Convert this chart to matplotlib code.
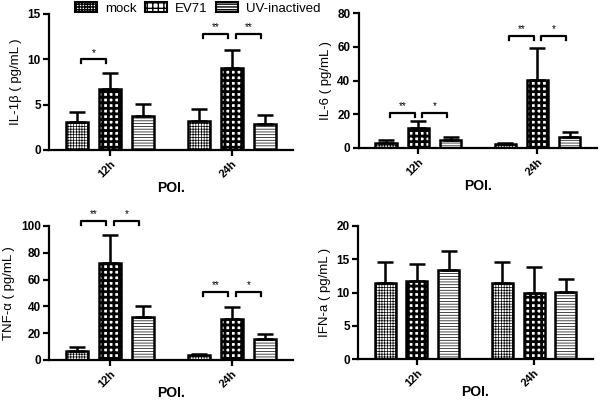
import matplotlib
matplotlib.use('Agg')
import matplotlib.pyplot as plt
import matplotlib.patches as mpatches
import numpy as np

# =============================================================================
#                               DATOS
# =============================================================================

grupos = ['12h', '24h']
series = ['mock', 'EV71', 'UV-inactived']

il1b_media = [[3.1, 3.2], [6.75, 9.0], [3.8, 2.85]]
il1b_err = [[1.1, 1.35], [1.75, 2.0], [1.3, 1.0]]

il6_media = [[3.0, 2.2], [12.0, 40.3], [4.8, 6.8]]
il6_err = [[2.0, 0.8], [4.0, 19.2], [1.8, 2.8]]

tnf_media = [[7.0, 3.8], [72.5, 30.8], [31.8, 15.5]]
tnf_err = [[2.5, 0.7], [21.0, 8.5], [8.2, 3.8]]

ifn_media = [[11.5, 11.5], [11.7, 10.0], [13.4, 10.1]]
ifn_err = [[3.1, 3.1], [2.6, 3.9], [2.9, 2.0]]

# (grupo, serie_a, serie_b, altura, texto)
il1b_sig = [(0, 0, 1, 10.0, '*'), (1, 0, 1, 12.8, '**'), (1, 1, 2, 12.8, '**')]
il6_sig = [(0, 0, 1, 20.7, '**'), (0, 1, 2, 20.7, '*'), (1, 0, 1, 66.4, '**'), (1, 1, 2, 66.4, '*')]
tnf_sig = [(0, 0, 1, 103.7, '**'), (0, 1, 2, 103.7, '*'), (1, 0, 1, 51.0, '**'), (1, 1, 2, 51.0, '*')]
ifn_sig = []

# =============================================================================
#                               ESTILO
# =============================================================================

plt.rcParams['font.family'] = ['Liberation Sans', 'DejaVu Sans']
plt.rcParams['font.weight'] = 'bold'
plt.rcParams['axes.linewidth'] = 1.6

hatches = ['++++++', '+++', '------']
hatch_lw = [0.5, 2.0, 0.5]
sep = 0.27
ancho = 0.18

fig = plt.figure(figsize=(6, 4), dpi=100)


def panel(rect, medias, errs, sig, ylabel, ylim, yticks, dy, poi_y):
    ax = fig.add_axes(rect)
    x = np.arange(1, len(grupos) + 1)
    for k in range(3):
        xs = x + (k - 1) * sep
        with plt.rc_context({'hatch.linewidth': hatch_lw[k]}):
            ax.bar(xs, medias[k], width=ancho, color='white', edgecolor='black',
                   linewidth=1.8, hatch=hatches[k], zorder=2)
        ax.errorbar(xs, medias[k], yerr=[np.zeros(len(grupos)), errs[k]], fmt='none',
                    ecolor='black', elinewidth=1.8, capsize=5.5, capthick=1.8, zorder=3)
    for g, a, b, h, txt in sig:
        x0 = g + 1 + (a - 1) * sep + 0.03
        x1 = g + 1 + (b - 1) * sep - 0.03
        ax.plot([x0, x0, x1, x1], [h - dy, h, h, h - dy], color='black', lw=1.6,
                clip_on=False, zorder=4)
        ax.text((x0 + x1) / 2, h + dy * 0.4, txt, ha='center', va='bottom', fontsize=7,
                fontweight='normal')
    ax.set_xlim(0.5, 2.5)
    ax.set_ylim(*ylim)
    ax.set_yticks(yticks)
    ax.set_xticks(x)
    ax.set_xticklabels(grupos, rotation=45, fontsize=8, ha='right', va='top',
                       rotation_mode='anchor')
    ax.tick_params(axis='y', labelsize=8.5, width=1.6, length=4, pad=2)
    ax.tick_params(axis='x', width=1.6, length=4, pad=2)
    ax.spines['top'].set_visible(False)
    ax.spines['right'].set_visible(False)
    ax.set_ylabel(ylabel, fontsize=9.5, fontweight='normal', labelpad=4)
    ax.set_xlabel('POI.', fontsize=10, fontweight='bold', va='center')
    ax.xaxis.set_label_coords(0.5, poi_y)
    return ax


panel([0.082, 0.625, 0.406, 0.34], il1b_media, il1b_err, il1b_sig,
      'IL-1β ( pg/mL )', (0, 15), [0, 5, 10, 15], 0.45, -0.28)
panel([0.598, 0.63, 0.397, 0.3375], il6_media, il6_err, il6_sig,
      'IL-6 ( pg/mL )', (0, 80), [0, 20, 40, 60, 80], 2.5, -0.28)
panel([0.082, 0.10, 0.406, 0.335], tnf_media, tnf_err, tnf_sig,
      'TNF-α ( pg/mL )', (0, 100), [0, 20, 40, 60, 80, 100], 3.0, -0.245)
panel([0.597, 0.1025, 0.391, 0.3325], ifn_media, ifn_err, ifn_sig,
      'IFN-a ( pg/mL )', (0, 20), [0, 5, 10, 15, 20], 0.6, -0.245)

handles = []
for k in range(3):
    with plt.rc_context({'hatch.linewidth': hatch_lw[k]}):
        handles.append(mpatches.Patch(facecolor='white', edgecolor='black', linewidth=1.5,
                                      hatch=hatches[k], label=series[k]))
fig.legend(handles=handles, loc='upper left', bbox_to_anchor=(0.105, 1.025), ncol=3,
           frameon=False, handlelength=1.7, handleheight=0.8,
           columnspacing=0.6, handletextpad=0.6, prop={'weight': 'normal', 'size': 9.5})

plt.savefig('out.png', dpi=100)
